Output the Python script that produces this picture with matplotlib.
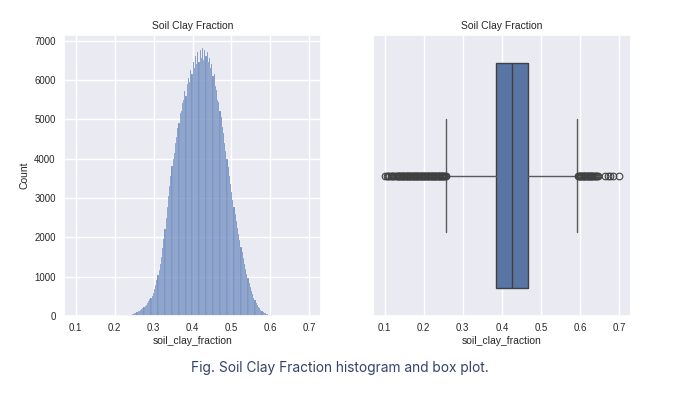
import numpy as np
import matplotlib
matplotlib.use('Agg')
import matplotlib.pyplot as plt
import seaborn as sns

# histogram: bins of 0.003 between hist_start and hist_stop, counts
hist_start, hist_stop = 0.226, 0.616
hist_counts = [
    8, 12, 15, 22, 28, 38, 45, 60, 72, 85,
    100, 118, 135, 160, 175, 205, 225, 260, 290, 330,
    370, 420, 470, 520, 590, 680, 790, 910, 1040, 1180,
    1330, 1500, 1720, 1950, 2200, 2480, 2760, 3050, 3300, 3560,
    3800, 4000, 4150, 4400, 4560, 4780, 4900, 5150, 5200, 5420,
    5480, 5720, 5600, 5900, 6050, 5950, 6250, 6150, 6450, 6300,
    6600, 6400, 6700, 6450, 6750, 6550, 6800, 6500, 6750, 6600,
    6700, 6450, 6550, 6300, 6400, 6100, 6150, 5850, 5750, 5500,
    5450, 5200, 5050, 4800, 4650, 4400, 4200, 4000, 3780, 3560,
    3350, 3150, 2960, 2780, 2600, 2420, 2240, 2080, 1920, 1760,
    1620, 1470, 1330, 1200, 1080, 960, 850, 740, 640, 550,
    470, 400, 340, 285, 240, 200, 165, 135, 110, 88,
    70, 55, 42, 32, 24, 17, 12, 8, 5, 3,
]

# box plot statistics
box_q1, box_median, box_q3 = 0.385, 0.426, 0.467
whisker_low, whisker_high = 0.258, 0.593
fliers_low = [
    0.100, 0.105, 0.109, 0.112, 0.116, 0.119, 0.122, 0.125, 0.128, 0.131,
    0.134, 0.136, 0.138, 0.140, 0.142, 0.144, 0.146, 0.148, 0.150, 0.152,
    0.154, 0.156, 0.158, 0.160, 0.162, 0.164, 0.166, 0.168, 0.170, 0.172,
    0.174, 0.176, 0.178, 0.180, 0.182, 0.184, 0.186, 0.188, 0.190, 0.192,
    0.194, 0.196, 0.198, 0.200, 0.202, 0.204, 0.206, 0.208, 0.210, 0.212,
    0.214, 0.216, 0.218, 0.220, 0.222, 0.224, 0.226, 0.228, 0.230, 0.232,
    0.234, 0.236, 0.238, 0.240, 0.242, 0.244, 0.246, 0.248, 0.250, 0.252,
    0.254, 0.256,
]
fliers_high = [
    0.595, 0.597, 0.599, 0.601, 0.603, 0.605, 0.607, 0.609, 0.611, 0.613,
    0.615, 0.617, 0.619, 0.621, 0.623, 0.625, 0.627, 0.629, 0.631, 0.633,
    0.635, 0.637, 0.640, 0.643, 0.647, 0.665, 0.671, 0.677, 0.684, 0.700,
]

title = 'Soil Clay Fraction'
x_label = 'soil_clay_fraction'
caption = 'Fig. Soil Clay Fraction histogram and box plot.'
x_ticks = [0.1, 0.2, 0.3, 0.4, 0.5, 0.6, 0.7]
y_ticks = [0, 1000, 2000, 3000, 4000, 5000, 6000, 7000]

sns.set_theme(style='darkgrid')
plt.rcParams['font.family'] = ['Liberation Sans', 'DejaVu Sans']

box_edge = '#404040'
whisker_gray = '#5a5a5a'
fig = plt.figure(figsize=(6.88, 3.96), dpi=100)
ax_hist = fig.add_axes([0.093, 0.202, 0.3736, 0.7096])
ax_box = fig.add_axes([0.542, 0.202, 0.375, 0.7096])

# histogram
edges = np.linspace(hist_start, hist_stop, len(hist_counts) + 1)
ax_hist.bar(edges[:-1], hist_counts, width=np.diff(edges), align='edge',
            color=(0.298, 0.447, 0.690, 0.75), edgecolor='white', linewidth=0.1)
ax_hist.set_xlim(0.07, 0.73)
ax_hist.set_ylim(0, 7140)
ax_hist.set_xticks(x_ticks)
ax_hist.set_yticks(y_ticks)
ax_hist.set_ylabel('Count', fontsize=7.5, labelpad=3)

# box plot
stats = [dict(med=box_median, q1=box_q1, q3=box_q3, whislo=whisker_low,
              whishi=whisker_high, fliers=fliers_low + fliers_high)]
ax_box.bxp(stats, positions=[0], widths=0.8, capwidths=[0.4], orientation='horizontal',
           patch_artist=True,
           boxprops=dict(facecolor='#5875a4', edgecolor=box_edge, linewidth=1.0),
           medianprops=dict(color=box_edge, linewidth=1.0),
           whiskerprops=dict(color=whisker_gray, linewidth=1.0),
           capprops=dict(color=whisker_gray, linewidth=1.0),
           flierprops=dict(marker='o', markersize=4.8, markerfacecolor='none',
                           markeredgecolor=box_edge, markeredgewidth=0.8))
ax_box.set_xlim(0.07, 0.73)
ax_box.set_ylim(0.5, -0.5)
ax_box.set_xticks(x_ticks)
ax_box.set_yticks([])
ax_box.grid(False, axis='y')

for ax in (ax_hist, ax_box):
    ax.set_title(title, fontsize=7.5, pad=4)
    ax.set_xlabel(x_label, fontsize=7.5, labelpad=2)
    ax.tick_params(axis='x', labelsize=6.9, length=0, pad=5)
    ax.tick_params(axis='y', labelsize=6.9, length=0, pad=6)
    ax.set_xticklabels([f'{t:.1f}' for t in x_ticks])

fig.text(0.494, 0.071, caption, ha='center', va='center', fontsize=9.9,
         color='#34436a', family=['Inter', 'DejaVu Sans'])

fig.savefig('out.png', dpi=100, facecolor='white')
